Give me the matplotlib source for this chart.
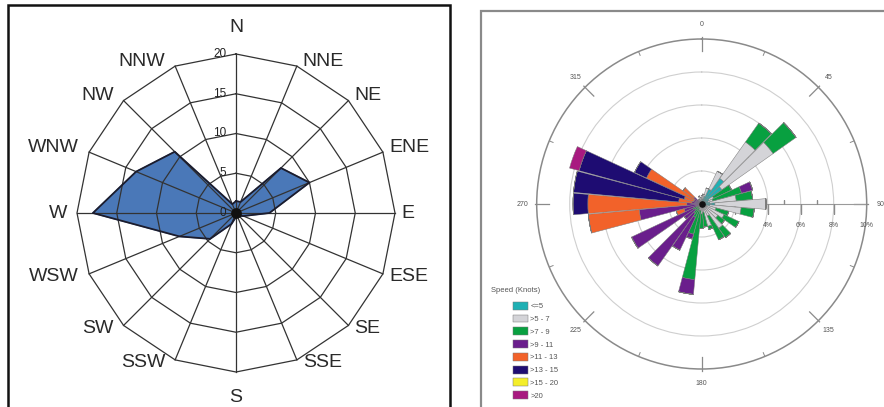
import numpy as np
import matplotlib.pyplot as plt
from matplotlib.patches import Rectangle

plt.rcParams['font.family'] = ['Liberation Sans', 'DejaVu Sans']

# left panel: radar of direction frequency
compass = ["N", "NNE", "NE", "ENE", "E", "ESE", "SE", "SSE",
           "S", "SSW", "SW", "WSW", "W", "WNW", "NW", "NNW"]
freq = [1.5, 1.5, 8.0, 10.0, 4.2, 1.0, 0.5, 0.5,
        0.5, 1.5, 4.6, 7.7, 18.0, 13.6, 10.9, 1.2]
rings = [5, 10, 15, 20]
ring_labels = ["0", "5", "10", "15", "20"]

# right panel: wind rose, % per 10 degree bin, stacked by speed class
dirs = np.arange(0, 360, 10)
speed_labels = ["<=5", ">5 - 7", ">7 - 9", ">9 - 11", ">11 - 13", ">13 - 15", ">15 - 20", ">20"]
speed_colors = ["#1fb0b4", "#d4d4d8", "#08a040", "#6a1e8c", "#f2622a", "#1e0c72", "#f4ee2a", "#a81a80"]
s_le5 = [0.3, 0.3, 0.5, 1.0, 1.9, 1.5, 0.5, 0.4, 0.5, 0.8, 0.5, 0.3, 0.3, 0.2, 0.2, 0.2, 0.2, 0.1,
         0.1, 0.1, 0.1, 0.1, 0.1, 0.0, 0.1, 0.0, 0.0, 0.0, 0.0, 0.0, 0.0, 0.0, 0.1, 0.1, 0.2, 0.2]
s_5_7 = [0.2, 0.3, 0.5, 1.2, 2.7, 3.8, 0.3, 0.3, 1.6, 3.1, 1.9, 0.6, 1.2, 1.0, 1.6, 0.6, 1.2, 0.4,
         0.5, 0.3, 0.3, 0.2, 0.2, 0.2, 0.2, 0.2, 0.2, 0.1, 0.0, 0.0, 0.0, 0.0, 0.2, 0.2, 0.3, 0.2]
s_7_9 = [0.0, 0.0, 0.0, 0.0, 1.4, 1.7, 1.2, 1.8, 1.0, 0.0, 0.8, 0.8, 1.0, 0.5, 0.7, 1.6, 0.2, 0.9,
         0.9, 4.2, 1.5, 0.6, 0.4, 0.3, 0.3, 0.0, 0.0, 0.0, 0.0, 0.0, 0.0, 0.0, 0.0, 0.0, 0.0, 0.0]
s_9_11 = [0.0, 0.0, 0.0, 0.0, 0.0, 0.0, 0.0, 0.7, 0.0, 0.0, 0.0, 0.0, 0.0, 0.0, 0.0, 0.0, 0.0, 0.0,
          0.0, 0.9, 0.3, 2.2, 3.9, 0.8, 4.1, 0.9, 3.6, 0.8, 0.6, 0.5, 0.5, 0.6, 0.0, 0.0, 0.0, 0.0]
s_11_13 = [0.0] * 25 + [0.5, 3.1, 6.0, 0.8, 0.6, 3.2, 0.8, 0.0, 0.0, 0.0, 0.0]
s_13_15 = [0.0] * 27 + [0.9, 6.4, 6.6, 0.8, 0.0, 0.0, 0.0, 0.0, 0.0]
s_15_20 = [0.0] * 36
s_gt20 = [0.0] * 29 + [0.6, 0.0, 0.0, 0.0, 0.0, 0.0, 0.0]
speeds = [s_le5, s_5_7, s_7_9, s_9_11, s_11_13, s_13_15, s_15_20, s_gt20]
angle_ticks = [0, 45, 90, 135, 180, 225, 270, 315]
pct_ticks = [4, 6, 8, 10]

W, H = 884, 407
fig = plt.figure(figsize=(W / 100, H / 100), dpi=100)

# ---------- left radar (cartesian, equal scale) ----------
cx, cy, ppu = 236, 213, 7.95
ax1 = fig.add_axes([0, 0, 460 / W, 1])
ax1.set_xlim(-cx / ppu, (460 - cx) / ppu)
ax1.set_ylim(-(H - cy) / ppu, cy / ppu)
ax1.axis('off')

th = np.deg2rad(np.arange(16) * 22.5)
vals = np.array(freq)
px = np.append(vals * np.sin(th), vals[0] * np.sin(th[0]))
py = np.append(vals * np.cos(th), vals[0] * np.cos(th[0]))
ax1.fill(px, py, color='#4a78b8', zorder=1)
ax1.plot(px, py, color='#1c1c2c', lw=1.3, zorder=3)

for r in rings:
    ax1.plot(np.append(r * np.sin(th), 0), np.append(r * np.cos(th), r),
             color='#333333', lw=0.9, zorder=2)
for t in th:
    ax1.plot([0, 20 * np.sin(t)], [0, 20 * np.cos(t)], color='#333333', lw=0.9, zorder=2)
ax1.scatter([0], [0], s=45, color='#111111', zorder=4)

for i, lab in enumerate(ring_labels):
    ax1.text(-1.2, i * 5, lab, ha='right', va='center', fontsize=8.5, color='#222222', zorder=5)

# compass labels sit just outside the outer ring
for t, lab in zip(th, compass):
    s, c = np.sin(t), np.cos(t)
    if s > 0.1:
        ha, ox = 'left', 6
    elif s < -0.1:
        ha, ox = 'right', -10
    else:
        ha, ox = 'center', 0
    if abs(s) < 0.1:
        oy = 27 if c > 0 else -25
    else:
        oy = 5 if c > 0.1 else (-3 if c < -0.1 else 0)
    ax1.annotate(lab, (20 * s, 20 * c), xytext=(ox, oy), textcoords='offset pixels',
                 ha=ha, va='center', fontsize=14, color='#2a2a2a')

fig.patches.append(Rectangle((8 / W, -0.05), (450 - 8) / W, (H - 5) / H + 0.05,
                             transform=fig.transFigure, fill=False, ec='#111111', lw=1.8))

# ---------- right wind rose (polar) ----------
rcx, rcy, rad = 701.7, 204, 165
ax2 = fig.add_axes([(rcx - rad) / W, (H - rcy - rad) / H, 2 * rad / W, 2 * rad / H],
                   projection='polar')
ax2.set_theta_zero_location('N')
ax2.set_theta_direction(-1)
ax2.set_ylim(0, 10)
ax2.set_facecolor('none')

theta = np.deg2rad(dirs)
bottom = np.zeros(len(dirs))
handles = []
for vals_s, col, lab in zip(speeds, speed_colors, speed_labels):
    v = np.array(vals_s)
    b = ax2.bar(theta, v, width=np.deg2rad(9.6), bottom=bottom, color=col,
                edgecolor='#7a7a7a', linewidth=0.35, label=lab, zorder=3)
    handles.append(b)
    bottom += v

ax2.set_yticks([2, 4, 6, 8])
ax2.set_yticklabels([])
ax2.yaxis.grid(True, color='#cfcfcf', lw=0.8)
ax2.xaxis.grid(False)
ax2.set_xticks([])
ax2.spines['polar'].set_color('#8a8a8a')
ax2.spines['polar'].set_linewidth(1.1)

# compass ticks on the outer ring
for a in angle_ticks:
    ax2.plot([np.deg2rad(a)] * 2, [9.25, 10.1], color='#8a8a8a', lw=0.9, zorder=2, clip_on=False)
    ax2.plot([np.deg2rad(a + 22.5)] * 2, [9.75, 10], color='#8a8a8a', lw=0.7, zorder=2)
    ax2.text(np.deg2rad(a), 10.85, str(a), ha='center', va='center', fontsize=5,
             color='#555555', clip_on=False)

# radial axis along 90 degrees
ax2.plot([np.pi / 2, np.pi / 2], [0, 10], color='#9a9a9a', lw=0.8, zorder=2)
ax2.plot([np.pi / 2] * 4, [1, 3, 5, 7], ls='none', marker=2, ms=3, color='#8a8a8a', zorder=2)
ax2.plot([np.pi / 2] * 5, [2, 4, 6, 8, 10], ls='none', marker=3, ms=7, color='#8a8a8a', zorder=2)
for p in pct_ticks:
    ax2.annotate(f"{p}%", (np.pi / 2, p), xytext=(0, -15.5), textcoords='offset points',
                 ha='center', va='center', fontsize=5, color='#555555')
ax2.scatter([0], [0], s=14, color='#111111', zorder=5)

fig.text(491 / W, 1 - 290 / H, "Speed (Knots)", fontsize=5.5, color='#555555', va='center')
leg = fig.legend(handles=handles, loc='upper left', bbox_to_anchor=(509 / W, 1 - 298 / H),
                 frameon=False, fontsize=5.5, handlelength=2.0, handleheight=1.2,
                 labelspacing=0.56, handletextpad=0.3, borderpad=0)
for t in leg.get_texts():
    t.set_color('#555555')

fig.patches.append(Rectangle((481 / W, -0.05), 1, (H - 11) / H + 0.05,
                             transform=fig.transFigure, fill=False, ec='#8a8a8a', lw=1.6))

fig.savefig('out.png', dpi=100)
